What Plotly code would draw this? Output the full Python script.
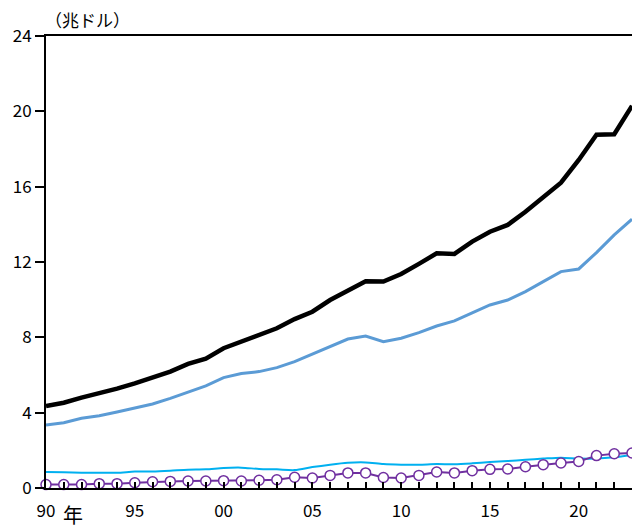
import plotly.graph_objects as go

years = list(range(1990, 2024))

total = [4.35, 4.53, 4.80, 5.03, 5.28, 5.56, 5.86, 6.18, 6.59, 6.87,
         7.42, 7.77, 8.13, 8.48, 8.97, 9.36, 9.98, 10.48, 10.98, 10.96,
         11.36, 11.90, 12.46, 12.43, 13.08, 13.61, 13.97, 14.67, 15.47, 16.21,
         17.42, 18.76, 18.78, 20.29]

blue = [3.35, 3.47, 3.70, 3.84, 4.04, 4.25, 4.46, 4.76, 5.10, 5.42,
        5.86, 6.08, 6.18, 6.39, 6.71, 7.12, 7.51, 7.91, 8.07, 7.77,
        7.95, 8.25, 8.60, 8.87, 9.30, 9.72, 9.98, 10.43, 10.96, 11.49,
        11.63, 12.50, 13.44, 14.27]

cyan = [0.85, 0.83, 0.81, 0.81, 0.81, 0.87, 0.88, 0.92, 0.97, 0.99,
        1.06, 1.08, 1.01, 0.99, 0.95, 1.11, 1.24, 1.34, 1.36, 1.27,
        1.24, 1.24, 1.27, 1.26, 1.31, 1.38, 1.43, 1.50, 1.56, 1.61,
        1.56, 1.56, 1.63, 1.75]

purple = [0.18, 0.18, 0.18, 0.23, 0.23, 0.28, 0.33, 0.35, 0.37, 0.37,
          0.39, 0.37, 0.41, 0.44, 0.57, 0.53, 0.67, 0.80, 0.80, 0.56,
          0.53, 0.67, 0.85, 0.80, 0.92, 0.99, 1.01, 1.13, 1.24, 1.33,
          1.41, 1.72, 1.82, 1.86]

x_tickvals = [1990, 1995, 2000, 2005, 2010, 2015, 2020]
x_ticktext = ["90", "95", "00", "05", "10", "15", "20"]
y_tickvals = [0, 4, 8, 12, 16, 20, 24]

FONT = "Noto Sans CJK JP"

# The page body has an 8px default margin; the figure is sized so that the
# plot area lands at page pixels x 46..632, y 36..488.
OFF = 8
W, H = 628, 523
ML, MT = 46 - OFF, 36 - OFF
MR = W - (632 - OFF)
MB = H - (488 - OFF)

fig = go.Figure()
fig.add_trace(go.Scatter(x=years, y=cyan, mode="lines",
                         line=dict(color="#00B0F0", width=2, shape="spline", smoothing=0.8)))
fig.add_trace(go.Scatter(x=years, y=blue, mode="lines",
                         line=dict(color="#5B9BD5", width=3)))
fig.add_trace(go.Scatter(x=years, y=total, mode="lines",
                         line=dict(color="#000000", width=4.5)))
fig.add_trace(go.Scatter(x=years, y=purple, mode="lines+markers",
                         line=dict(color="#7030A0", width=2),
                         marker=dict(symbol="circle", size=10, color="white",
                                     line=dict(color="#7030A0", width=1.5)),
                         cliponaxis=False))

fig.update_layout(
    width=W, height=H,
    margin=dict(l=ML, r=MR, t=MT, b=MB, autoexpand=False),
    paper_bgcolor="white", plot_bgcolor="white",
    showlegend=False,
    font=dict(family=FONT, size=16, color="black"),
    xaxis=dict(range=[1990, 2023], tickvals=x_tickvals, ticktext=x_ticktext,
               ticks="inside", ticklen=6, tickwidth=1.5, tickcolor="black",
               minor=dict(ticks="inside", dtick=1, tick0=1990, ticklen=6, tickwidth=1.5, tickcolor="black"),
               showline=True, linecolor="black", linewidth=2, mirror=True,
               ticklabelstandoff=7,
               showgrid=False, zeroline=False, tickfont=dict(size=17)),
    yaxis=dict(range=[0, 24], tickvals=y_tickvals,
               ticks="outside", ticklen=9, tickwidth=1.5, tickcolor="black",
               showline=True, linecolor="black", linewidth=2, mirror=True,
               showgrid=False, zeroline=False, tickfont=dict(size=17)),
)

pw = 632 - 46
ph = 488 - 36
labels = [("（兆ドル）", 87, 19, 17), ("年", 73, 514, 20)]
for text, px, py, size in labels:
    fig.add_annotation(text=text, x=(px - 46) / pw, y=(488 - py) / ph,
                       xref="paper", yref="paper", showarrow=False,
                       xanchor="center", yanchor="middle",
                       font=dict(size=size))

fig.write_html("out.html")
